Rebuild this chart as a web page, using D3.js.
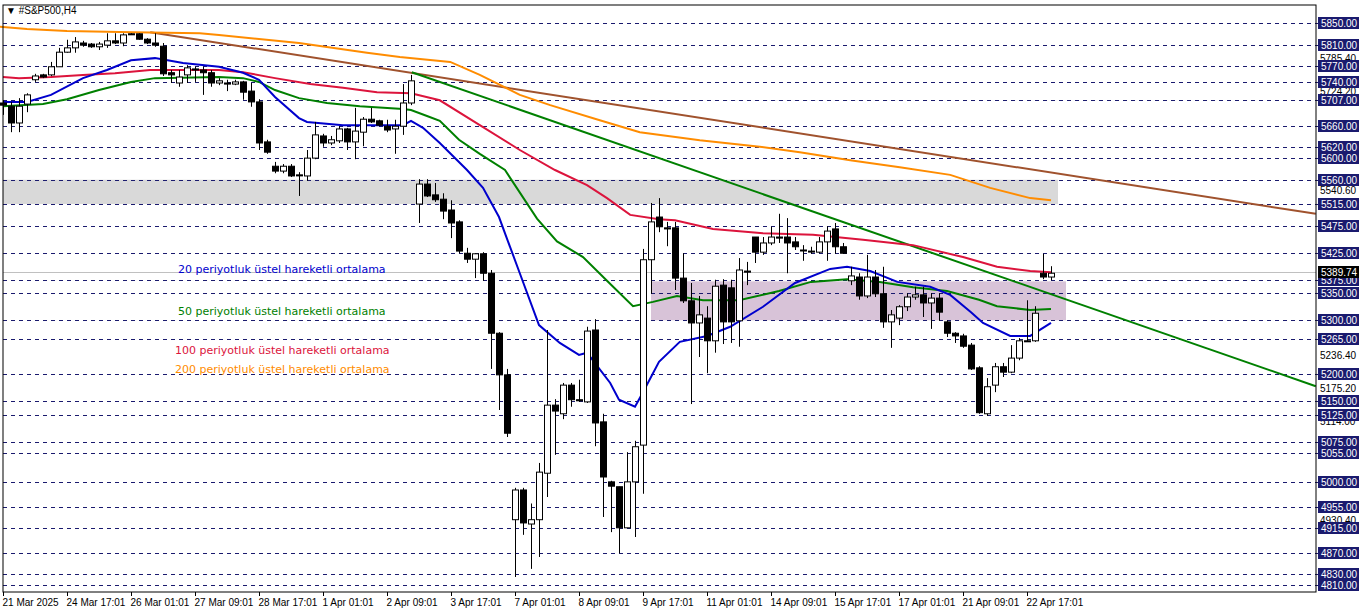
<!DOCTYPE html>
<html><head><meta charset="utf-8">
<script src="https://cdn.jsdelivr.net/npm/d3@7"></script>
<style>body{margin:0;background:#fff;}svg{font-family:"DejaVu Sans",sans-serif;}</style>
</head><body>
<script>
// OHLC per H4 candle
const candles = [
[5702,5707,5680,5698],[5696,5704,5648,5665],[5665,5711,5648,5696],[5700,5720,5685,5717],
[5745,5756,5741,5752],[5754,5756,5748,5750],[5754,5778,5752,5769],[5769,5804,5769,5796],
[5796,5819,5795,5804],[5804,5824,5795,5815],[5813,5817,5806,5809],[5811,5813,5804,5806],
[5806,5815,5800,5811],[5809,5831,5804,5817],[5817,5831,5811,5813],[5813,5831,5807,5828],
[5830,5831,5828,5829],[5830,5831,5819,5820],[5820,5822,5811,5813],[5813,5831,5806,5809],
[5807,5813,5752,5756],[5758,5763,5739,5754],[5739,5763,5732,5750],[5754,5772,5739,5767],
[5765,5769,5741,5763],[5763,5769,5717,5758],[5758,5763,5732,5739],[5739,5748,5735,5743],
[5739,5745,5724,5737],[5737,5745,5735,5741],[5741,5743,5708,5722],[5724,5739,5695,5704],
[5704,5709,5615,5628],[5630,5634,5608,5611],[5585,5593,5572,5576],[5576,5589,5572,5585],
[5585,5589,5565,5567],[5569,5574,5530,5568],[5567,5615,5558,5600],[5600,5667,5598,5643],
[5641,5645,5621,5628],[5628,5641,5624,5634],[5632,5659,5628,5654],[5654,5656,5615,5630],
[5630,5693,5598,5650],[5648,5676,5622,5672],[5672,5693,5665,5667],[5669,5671,5659,5661],
[5659,5671,5648,5652],[5654,5671,5608,5659],[5659,5737,5643,5702],[5702,5754,5698,5743],
[5515,5561,5480,5552],[5552,5561,5528,5530],[5532,5554,5519,5523],[5524,5535,5487,5502],
[5504,5522,5452,5480],[5482,5485,5424,5428],[5424,5434,5406,5413],[5413,5424,5378,5423],
[5423,5426,5373,5387],[5387,5393,5210,5276],[5276,5278,5134,5199],[5199,5210,5084,5091],
[4931,4990,4825,4986],[4986,4990,4903,4925],[4923,4961,4840,4931],[4931,5036,4862,5019],
[5017,5282,4973,5143],[5143,5154,5051,5132],[5127,5184,5117,5180],[5180,5184,5140,5153],
[5153,5190,5149,5151],[5149,5288,5147,5280],[5282,5302,5067,5110],[5112,5127,4936,5010],
[5001,5003,4908,4993],[4992,4992,4869,4916],[4916,5056,4916,5001],[5001,5077,4899,5066],
[5069,5432,4979,5412],[5412,5517,5349,5482],[5491,5526,5463,5473],[5471,5482,5437,5469],
[5471,5482,5356,5378],[5378,5424,5332,5336],[5336,5369,5145,5295],[5295,5345,5232,5310],
[5304,5326,5202,5262],[5262,5375,5240,5363],[5365,5376,5256,5297],[5360,5375,5258,5297],
[5299,5415,5251,5393],[5391,5408,5365,5389],[5454,5454,5406,5426],[5426,5454,5421,5443],
[5443,5473,5439,5454],[5454,5497,5443,5452],[5454,5489,5387,5443],[5445,5454,5430,5436],
[5430,5439,5410,5429],[5428,5436,5423,5427],[5426,5454,5424,5445],[5445,5474,5410,5465],
[5469,5480,5423,5436],[5436,5443,5423,5424],[5373,5399,5365,5382],[5380,5387,5338,5345],
[5345,5421,5341,5380],[5380,5393,5343,5349],[5349,5399,5286,5297],[5297,5319,5249,5310],
[5304,5328,5291,5325],[5325,5350,5317,5343],[5343,5362,5338,5347],[5347,5362,5306,5332],
[5332,5350,5284,5341],[5341,5350,5299,5315],[5297,5300,5269,5276],[5276,5278,5258,5271],
[5271,5275,5249,5252],[5254,5258,5208,5210],[5212,5215,5127,5129],[5127,5193,5123,5177],
[5180,5221,5167,5214],[5214,5221,5195,5204],[5204,5254,5202,5230],[5230,5267,5226,5262],
[5262,5337,5260,5261],[5262,5326,5260,5313],[5387,5423,5376,5380],[5380,5400,5374,5387]
];

// moving averages as [candle index, price]
const ema20 = [[0,5704],[3,5704],[6,5717],[10,5748],[13,5763],[16,5781],[19,5785],[22.5,5776],[27,5769],[30,5758],[32,5745],[34,5713],[37,5674],[38,5667],[42.5,5661],[50,5661],[51,5669],[52.5,5656],[54.6,5628],[58,5578],[60,5545],[62,5491],[64.6,5387],[67,5291],[69.6,5258],[72,5236],[73,5240],[75.9,5184],[77,5153],[79,5140],[80,5167],[82,5223],[84.6,5260],[88,5271],[90.9,5288],[95,5325],[99,5369],[103.4,5395],[105.5,5399],[108.4,5391],[111.8,5371],[115.9,5362],[118.4,5347],[121,5315],[122.5,5295],[125.9,5271],[128.4,5271],[131,5295]];
const ema50 = [[0,5696],[5,5700],[8,5709],[12,5726],[16,5741],[19,5748],[27,5750],[30,5748],[32,5741],[34,5726],[37,5711],[40.5,5702],[44.6,5696],[50,5691],[51,5689],[53,5678],[54.6,5669],[57,5634],[59.6,5608],[62.75,5578],[66.75,5488],[69.25,5446],[72.5,5417],[75.5,5373],[78.75,5326],[81.25,5334],[84.25,5345],[87.5,5337],[92,5337],[97,5354],[101,5371],[105.5,5376],[109.6,5371],[113.75,5361],[118,5354],[122,5338],[124.25,5326],[128.4,5319],[131,5321]];
const ema100 = [[0,5750],[2,5748],[6,5750],[10,5754],[14,5757],[18.4,5763],[27,5763],[30,5759],[34,5748],[38.4,5737],[42.5,5730],[46.75,5722],[51,5720],[54.6,5707],[59.6,5661],[64.6,5615],[69,5578],[73,5550],[75.5,5526],[78.4,5495],[82,5487],[84,5485],[88.75,5469],[95,5461],[101.25,5458],[107.5,5449],[113.75,5439],[120,5417],[124.25,5399],[128.4,5391],[131,5389]];
const ema200 = [[-0.4,5843],[3,5839],[8,5835],[16.25,5833],[24.6,5831],[27,5828],[37,5813],[45.5,5795],[49.6,5787],[55.9,5778],[59.6,5754],[64.6,5717],[68.4,5698],[74.6,5670],[79.6,5648],[87.1,5633],[94.6,5621],[99.6,5611],[105.9,5596],[112.1,5583],[118.4,5569],[123.4,5545],[128.4,5526],[131,5522]];

const trendBrown = [[18.4,5833],[164.1,5497]];
const trendGreen = [[51.1,5759],[164.1,5178]];

const levels = [5850,5810,5770,5740,5707,5660,5620,5600,5560,5515,5475,5425,5375,5350,5300,5265,5200,5150,5125,5075,5055,5000,4955,4915,4870,4830,4810];
const plainLabels = [5785.40,5724.20,5540.60,5236.40,5175.20,5114.00,4930.40];
const lastPrice = 5389.74;
const greyZone = [5515,5560];
const purpleZone = [5300,5372];

const tickIdx = [0,8,16,24,32,40,48,56,64,72,80,88,96,104,112,120,128];
const tickText = ["21 Mar 2025","24 Mar 17:01","26 Mar 01:01","27 Mar 09:01","28 Mar 17:01","1 Apr 01:01","2 Apr 09:01","3 Apr 17:01","7 Apr 01:01","8 Apr 09:01","9 Apr 17:01","11 Apr 01:01","14 Apr 09:01","15 Apr 17:01","17 Apr 01:01","21 Apr 09:01","22 Apr 17:01"];

const W = 1362, H = 611, L = 3, R = 1316, T = 5, B = 592;
const AX = '"Liberation Sans",Arial,sans-serif';
const svg = d3.select('body').append('svg').attr('width', W).attr('height', H);

const x = d3.scaleLinear().domain([0, 164.125]).range([L, R]);
const y = d3.scaleLinear().domain([4810, 5850]).range([585.1, 23]);

// zones
svg.append('rect').attr('x', L).attr('width', 1058 - L)
   .attr('y', y(greyZone[1])).attr('height', y(greyZone[0]) - y(greyZone[1])).attr('fill', '#d9d9d9');
svg.append('rect').attr('x', 651).attr('width', 1066 - 651)
   .attr('y', y(purpleZone[1])).attr('height', y(purpleZone[0]) - y(purpleZone[1])).attr('fill', '#d8c3d8');

// dashed levels
svg.selectAll('line.lvl').data(levels).enter().append('line')
   .attr('x1', L).attr('x2', R + 6)
   .attr('y1', d => Math.round(y(d)) + 0.5).attr('y2', d => Math.round(y(d)) + 0.5)
   .attr('stroke', '#1a1a6e').attr('stroke-dasharray', '4,4');
svg.append('line').attr('x1', L).attr('x2', R)
   .attr('y1', Math.round(y(lastPrice)) + 0.5).attr('y2', Math.round(y(lastPrice)) + 0.5)
   .attr('stroke', '#c0c0c0');

// trend lines
const line = d3.line().x(d => x(d[0])).y(d => y(d[1]));
svg.append('path').datum(trendBrown).attr('d', line).attr('stroke', '#a0522d').attr('stroke-width', 2).attr('fill', 'none');
svg.append('path').datum(trendGreen).attr('d', line).attr('stroke', '#008000').attr('stroke-width', 2).attr('fill', 'none');

// moving averages
[[ema200, '#ff8c00'], [ema100, '#dc143c'], [ema50, '#008000'], [ema20, '#0000cd']].forEach(([d, c]) => {
  svg.append('path').datum(d).attr('d', line).attr('stroke', c).attr('stroke-width', 2).attr('fill', 'none');
});

// candles
const g = svg.append('g');
g.selectAll('line.wick').data(candles).enter().append('line')
 .attr('x1', (d, i) => Math.round(x(i)) + 0.5).attr('x2', (d, i) => Math.round(x(i)) + 0.5)
 .attr('y1', d => y(d[1])).attr('y2', d => y(d[2])).attr('stroke', '#000');
g.selectAll('rect').data(candles).enter().append('rect')
 .attr('x', (d, i) => Math.round(x(i)) - 2.5)
 .attr('width', 6)
 .attr('y', d => y(Math.max(d[0], d[3])))
 .attr('height', d => Math.max(1, Math.abs(y(d[0]) - y(d[3]))))
 .attr('fill', d => d[3] >= d[0] ? '#fff' : '#000')
 .attr('stroke', '#000');

// frame
svg.append('rect').attr('x', L).attr('y', T).attr('width', R - L).attr('height', B - T)
   .attr('fill', 'none').attr('stroke', '#000');

// legend texts
const legend = [['20 periyotluk üstel hareketli ortalama', '#0000cd', 178, 273],
                ['50 periyotluk üstel hareketli ortalama', '#008000', 178, 315],
                ['100 periyotluk üstel hareketli ortalama', '#dc143c', 175, 354],
                ['200 periyotluk üstel hareketli ortalama', '#ff8c00', 175, 373]];
svg.selectAll('text.leg').data(legend).enter().append('text')
   .attr('x', d => d[2]).attr('y', d => d[3]).attr('fill', d => d[1])
   .attr('font-size', '11px').text(d => d[0]);

svg.append('text').attr('x', 6).attr('y', 14).attr('font-size', '10px')
   .style('font-family', AX).text('▼ #S&P500,H4');

// right price labels (plain ones sit partly under the boxes, as on the terminal)
svg.selectAll('text.plain').data(plainLabels).enter().append('text')
   .attr('x', 1320).attr('y', d => y(d) + 4).attr('font-size', '10px').attr('fill', '#000')
   .style('font-family', AX).text(d => d.toFixed(2));
const lb = svg.selectAll('g.lb').data(levels).enter().append('g')
   .attr('transform', d => `translate(1318,${Math.round(y(d)) - 6})`);
lb.append('rect').attr('width', 41).attr('height', 12).attr('fill', '#1a1a6e');
lb.append('text').attr('x', 3).attr('y', 10).attr('font-size', '10px').attr('fill', '#fff')
  .style('font-family', AX).text(d => d.toFixed(2));
const lp = svg.append('g').attr('transform', `translate(1318,${Math.round(y(lastPrice)) - 6})`);
lp.append('rect').attr('width', 41).attr('height', 12).attr('fill', '#000');
lp.append('text').attr('x', 3).attr('y', 10).attr('font-size', '10px').attr('fill', '#fff')
  .style('font-family', AX).text(lastPrice.toFixed(2));

// time axis
const ax = svg.append('g').attr('transform', `translate(0,${B})`)
   .call(d3.axisBottom(x).tickValues(tickIdx).tickSize(4).tickFormat((d, i) => tickText[i]));
ax.select('.domain').remove();
ax.selectAll('text').attr('text-anchor', 'start').attr('dx', -1).attr('font-size', '10px').attr('fill', '#000')
  .style('font-family', AX);
</script>
</body></html>
